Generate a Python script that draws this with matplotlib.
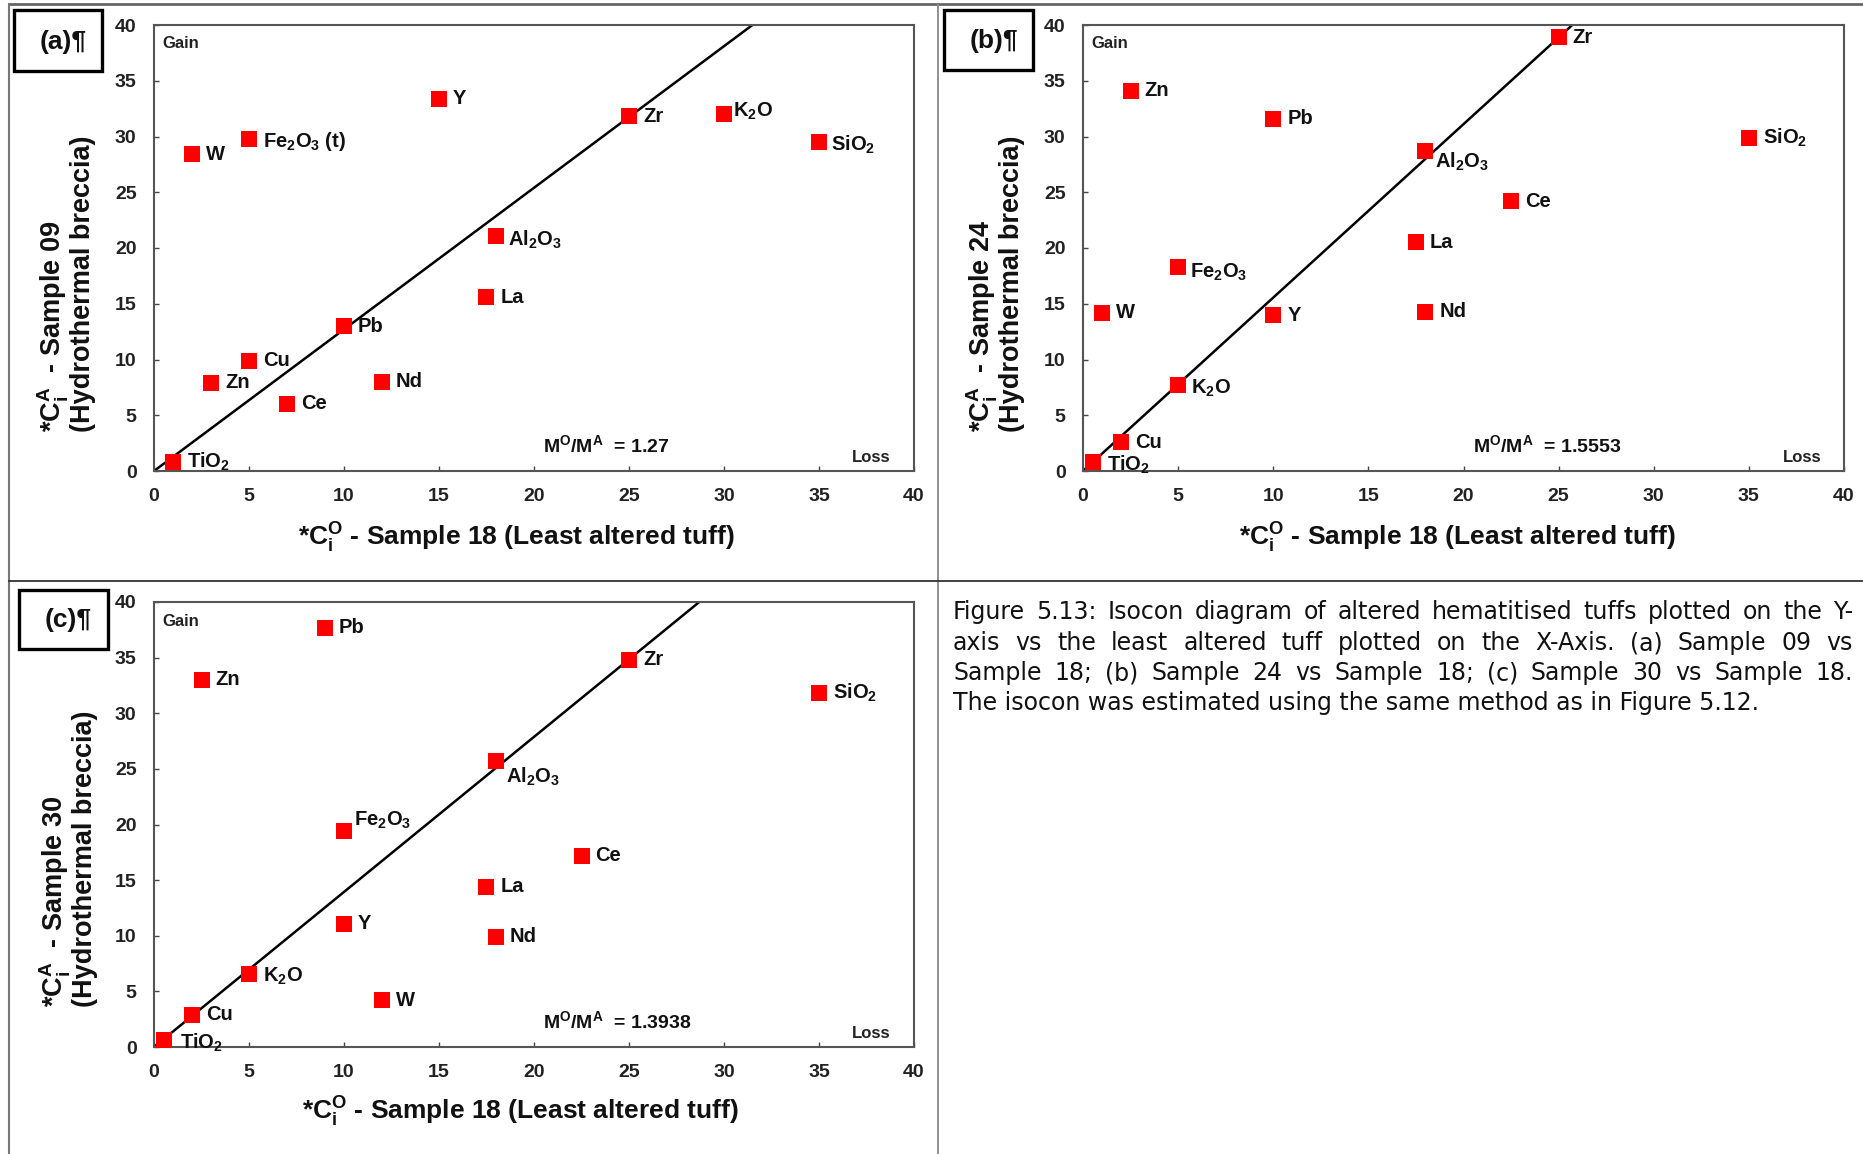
import matplotlib
matplotlib.use('Agg')
import matplotlib.pyplot as plt
from matplotlib.patches import Rectangle
from matplotlib.lines import Line2D

plt.rcParams['font.family'] = 'Liberation Sans'
plt.rcParams['font.weight'] = 'bold'
plt.rcParams['mathtext.fontset'] = 'custom'
plt.rcParams['mathtext.rm'] = 'Liberation Sans:bold'
plt.rcParams['mathtext.it'] = 'Liberation Sans:bold'
plt.rcParams['mathtext.bf'] = 'Liberation Sans:bold'

W, H = 1863, 1154

# --- Data ---
names_a = ['TiO2', 'W', 'Fe2O3 (t)', 'Y', 'Zr', 'K2O', 'SiO2', 'Al2O3', 'La', 'Pb', 'Cu', 'Zn', 'Nd', 'Ce']
x_a = [1, 2, 5, 15, 25, 30, 35, 18, 17.5, 10, 5, 3, 12, 7]
y_a = [0.8, 28.4, 29.8, 33.4, 31.8, 32.0, 29.5, 21.1, 15.6, 13.0, 9.9, 7.9, 8.0, 6.05]
ratio_a = 1.27

names_b = ['Zr', 'Zn', 'Pb', 'SiO2', 'Al2O3', 'Ce', 'La', 'Fe2O3', 'W', 'Y', 'Nd', 'K2O', 'Cu', 'TiO2']
x_b = [25, 2.5, 10, 35, 18, 22.5, 17.5, 5, 1, 10, 18, 5, 2, 0.5]
y_b = [38.9, 34.1, 31.6, 29.9, 28.7, 24.2, 20.5, 18.3, 14.2, 13.95, 14.3, 7.7, 2.56, 0.8]
ratio_b = 1.5553

names_c = ['Pb', 'Zn', 'Zr', 'SiO2', 'Al2O3', 'Fe2O3', 'Ce', 'La', 'Y', 'Nd', 'K2O', 'W', 'Cu', 'TiO2']
x_c = [9, 2.5, 25, 35, 18, 10, 22.5, 17.5, 10, 18, 5, 12, 2, 0.5]
y_c = [37.7, 33.0, 34.8, 31.8, 25.7, 19.4, 17.2, 14.4, 11.1, 9.9, 6.6, 4.2, 2.9, 0.66]
ratio_c = 1.3938

samples = ['09', '24', '30']
ticks = [0, 5, 10, 15, 20, 25, 30, 35, 40]

pretty = {
    'TiO2': 'TiO$_2$', 'SiO2': 'SiO$_2$', 'K2O': 'K$_2$O', 'Al2O3': 'Al$_2$O$_3$',
    'Fe2O3': 'Fe$_2$O$_3$', 'Fe2O3 (t)': 'Fe$_2$O$_3$ (t)',
}

caption = [
    'Figure 5.13: Isocon diagram of altered hematitised tuffs plotted on the Y-',
    'axis vs the least altered tuff plotted on the X-Axis. (a) Sample 09 vs',
    'Sample 18; (b) Sample 24 vs Sample 18; (c) Sample 30 vs Sample 18.',
    'The isocon was estimated using the same method as in Figure 5.12.',
]

# label nudges in pixels (dx, dy up); default is to the right of the marker
nudges = [
    {'K2O': (9, 3), 'SiO2': (12, -3), 'Al2O3': (12, -4), 'Fe2O3 (t)': (14, -3)},
    {'Al2O3': (10, -11), 'TiO2': (14, -3), 'Fe2O3': (12, -5), 'K2O': (13, -3)},
    {'Fe2O3': (10, 11), 'Al2O3': (10, -16), 'TiO2': (17, -3), 'K2O': (14, -3)},
]

# layout in pixels: axes box (left, top, right, bottom), label box, x-label centre, y-label anchor
layout = [
    dict(ax=(154, 25, 914, 471), box=(14, 10, 102, 71), xl=(516, 538), yl=(66, 432), tag='(a)¶'),
    dict(ax=(1083, 25, 1844, 471), box=(944, 10, 1033, 70), xl=(1457, 538), yl=(995, 432), tag='(b)¶'),
    dict(ax=(154, 602, 914, 1047), box=(19, 590, 108, 649), xl=(520, 1112), yl=(68, 1007), tag='(c)¶'),
]


def fx(px):
    return px / W


def fy(py):
    return 1 - py / H


fig = plt.figure(figsize=(W / 100, H / 100), dpi=100)
fig.patch.set_facecolor('white')

panels = [(names_a, x_a, y_a, ratio_a), (names_b, x_b, y_b, ratio_b), (names_c, x_c, y_c, ratio_c)]

for i, (names, xs, ys, ratio) in enumerate(panels):
    L = layout[i]
    l, t, r, b = L['ax']
    ax = fig.add_axes([fx(l), fy(b), (r - l) / W, (b - t) / H])
    ax.set_xlim(0, 40)
    ax.set_ylim(0, 40)
    ax.set_xticks(ticks)
    ax.set_yticks(ticks)
    for s in ax.spines.values():
        s.set_color('#555555')
        s.set_linewidth(1.5)
    ax.tick_params(direction='in', length=3.5, width=1, color='#444444',
                   labelsize=14, pad=12.5, labelcolor='#222222')
    for lab in ax.get_xticklabels() + ax.get_yticklabels():
        lab.set_fontweight('bold')

    # isocon through the origin
    ax.plot([0, 40 / ratio], [0, 40], color='black', lw=1.8, zorder=2)
    ax.plot(xs, ys, linestyle='none', marker='s', markersize=11.5,
            color='#ff0000', markeredgewidth=0, zorder=3)

    for name, xv, yv in zip(names, xs, ys):
        dx, dy = nudges[i].get(name, (14, 0))
        ax.annotate(pretty.get(name, name), (xv, yv), xytext=(dx * 0.72, dy * 0.72),
                    textcoords='offset points', ha='left', va='center',
                    fontsize=14.5, fontweight='bold', color='#111111', zorder=4)

    ax.text(8 / (r - l), 1 - 19 / (b - t), 'Gain', transform=ax.transAxes,
            ha='left', va='center', fontsize=12, fontweight='bold', color='#222222')
    ax.text(1 - 23 / (r - l), 14 / (b - t), 'Loss', transform=ax.transAxes,
            ha='right', va='center', fontsize=12, fontweight='bold', color='#222222')
    ax.text(0.512, 0.058, 'M$^{O}$/M$^{A}$  = ' + f'{ratio:g}', transform=ax.transAxes,
            ha='left', va='center', fontsize=14, fontweight='bold', color='#111111')

    # axis titles
    fig.text(fx(L['xl'][0]), fy(L['xl'][1]), '*C$_i^O$ - Sample 18 (Least altered tuff)',
             ha='center', va='center', fontsize=19, fontweight='bold', color='#111111')
    fig.text(fx(L['yl'][0]), fy(L['yl'][1]),
             '*C$_i^A$  - Sample ' + samples[i] + '\n(Hydrothermal breccia)',
             rotation=90, rotation_mode='anchor', ha='left', va='center',
             multialignment='left', linespacing=0.95,
             fontsize=19.5, fontweight='bold', color='#111111')

    # boxed panel tag
    bx0, by0, bx1, by1 = L['box']
    fig.add_artist(Rectangle((fx(bx0), fy(by1)), (bx1 - bx0) / W, (by1 - by0) / H,
                             transform=fig.transFigure, fill=False, ec='black', lw=2.4))
    fig.text(fx((bx0 + bx1) / 2 + 5), fy((by0 + by1) / 2 + 1), L['tag'],
             ha='center', va='center', fontsize=19, fontweight='bold', color='#111111')

# frame lines of the original table
fig.add_artist(Line2D([fx(9), fx(W)], [fy(4), fy(4)], color='#666666', lw=2, transform=fig.transFigure))
fig.add_artist(Line2D([fx(9), fx(9)], [fy(4), fy(H)], color='#777777', lw=1.5, transform=fig.transFigure))
fig.add_artist(Line2D([fx(938), fx(938)], [fy(4), fy(H)], color='#888888', lw=1.3, transform=fig.transFigure))
fig.add_artist(Line2D([fx(9), fx(W)], [fy(581), fy(581)], color='#333333', lw=1.3, transform=fig.transFigure))

# justified caption
cap_left, cap_right = 953, 1853
cap_ys = [612, 643, 673, 703]
cap_kw = dict(fontsize=17, fontweight='normal', family='DejaVu Sans', color='#111111', va='center')
renderer = fig.canvas.get_renderer()
for k, (line, yy) in enumerate(zip(caption, cap_ys)):
    if k == len(caption) - 1:
        fig.text(fx(cap_left), fy(yy), line, ha='left', **cap_kw)
        continue
    words = line.split(' ')
    items = [fig.text(0, fy(yy), w, ha='left', **cap_kw) for w in words]
    widths = [it.get_window_extent(renderer).width for it in items]
    gap = (cap_right - cap_left - sum(widths)) / (len(words) - 1)
    pos = cap_left
    for it, wd in zip(items, widths):
        it.set_x(fx(pos))
        pos += wd + gap

fig.savefig('out.png', dpi=100, facecolor='white')
